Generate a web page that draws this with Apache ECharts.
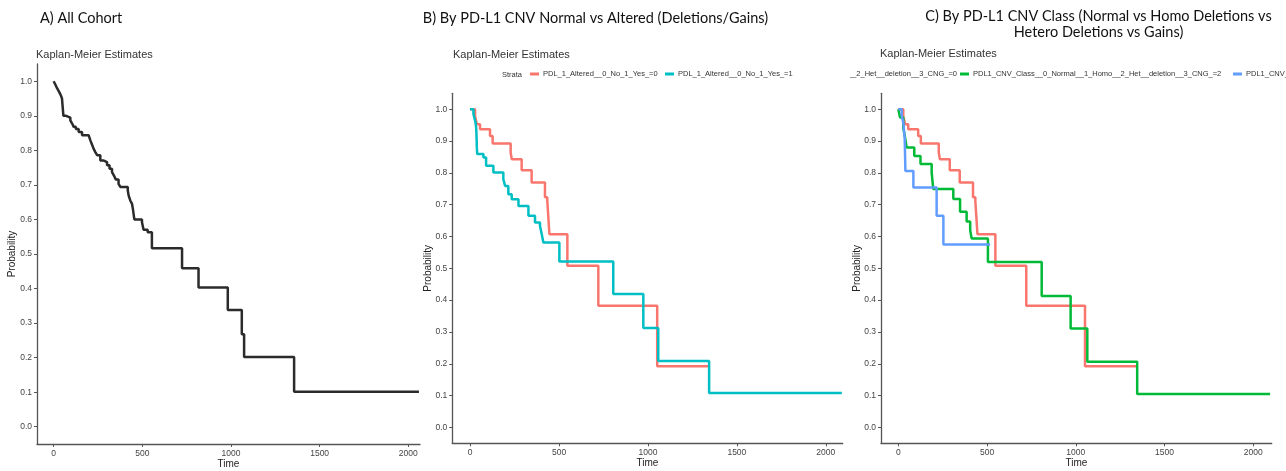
<!DOCTYPE html>
<html><head><meta charset="utf-8">
<script src="https://cdn.jsdelivr.net/npm/echarts@6/dist/echarts.min.js"></script>
<style>
html,body{margin:0;padding:0;background:#fff;width:1286px;height:471px;overflow:hidden;position:relative}
.p{position:absolute;top:0;height:471px}
</style></head><body>
<div id="a" class="p" style="left:0;width:430px"></div>
<div id="b" class="p" style="left:415px;width:435px"></div>
<div id="c" class="p" style="left:850px;width:436px"></div>
<script>
// ---- data ----
const xTicks = [0, 500, 1000, 1500, 2000];
const yTicks = [0, 0.1, 0.2, 0.3, 0.4, 0.5, 0.6, 0.7, 0.8, 0.9, 1.0];

// Panel A: all cohort
const timeAll = [0,10,19,30,40,47,50,55,70,94,105,113,125,141,160,197,207,216,225,235,245,263,280,301,315,329,340,350,366,376,418,423,432,442,447,455,498,507,530,554,724,817,982,1061,1074,1356,2060];
const survAll = [1.0,0.99,0.98,0.97,0.96,0.95,0.93,0.90,0.895,0.887,0.877,0.868,0.862,0.853,0.844,0.839,0.829,0.817,0.805,0.795,0.786,0.771,0.766,0.757,0.747,0.737,0.727,0.716,0.703,0.694,0.684,0.669,0.655,0.645,0.630,0.600,0.592,0.570,0.563,0.517,0.459,0.403,0.338,0.268,0.202,0.101,0.101];

// Panel B / C: Normal (=0)
const timeNormal = [0,28,38,56,112,127,228,234,290,346,421,434,440,446,547,721,1052,1340];
const survNormal = [1.0,0.979,0.953,0.937,0.916,0.892,0.864,0.843,0.808,0.770,0.723,0.712,0.660,0.607,0.508,0.382,0.192,0.192];

// Panel B: Altered (=1)
const timeAltered = [0,19,30,34,36,38,40,75,90,131,187,197,215,234,272,328,365,393,403,412,502,805,974,1058,1344,2090];
const survAltered = [1.0,0.984,0.960,0.943,0.920,0.880,0.859,0.848,0.822,0.801,0.780,0.759,0.733,0.717,0.696,0.665,0.644,0.633,0.607,0.581,0.521,0.419,0.312,0.209,0.108,0.108];

// Panel C: class =2 (green)
const timeClass2 = [0,10,28,38,47,90,125,188,197,310,348,385,405,413,505,808,971,1065,1346,2095];
const survClass2 = [1.0,0.974,0.942,0.911,0.880,0.853,0.828,0.801,0.749,0.718,0.678,0.647,0.620,0.594,0.520,0.413,0.311,0.206,0.105,0.105];

// Panel C: class =3 (blue)
const timeClass3 = [0,19,28,36,40,85,216,254,517];
const survClass3 = [1.0,0.979,0.958,0.910,0.806,0.754,0.665,0.575,0.575];

const nameB0 = 'PDL_1_Altered__0_No_1_Yes_=0';
const nameB1 = 'PDL_1_Altered__0_No_1_Yes_=1';
const nameC0 = 'PDL1_CNV_Class__0_Normal__1_Homo__2_Het__deletion__3_CNG_=0';
const nameC2 = 'PDL1_CNV_Class__0_Normal__1_Homo__2_Het__deletion__3_CNG_=2';
const nameC3 = 'PDL1_CNV_Class__0_Normal__1_Homo__2_Het__deletion__3_CNG_=3';

// ---- helpers ----
const SANS = 'Liberation Sans, Arial, sans-serif';
const TITLEF = 'Lato, "Open Sans", sans-serif';
const zip = (t, s) => t.map((v, i) => [v, s[i]]);

function gridCfg(l, t, w, h) {
  return {left: l, top: t, width: w, height: h, containLabel: false, outerBoundsMode: 'none'};
}
function xAxisCfg(min, max) {
  return {
    type: 'value', min: min, max: max,
    name: 'Time', nameLocation: 'middle', nameGap: 15, nameMoveOverlap: false,
    nameTextStyle: {fontSize: 10, color: '#222', fontFamily: SANS},
    axisLine: {show: true, onZero: false, lineStyle: {color: '#555', width: 1.3}},
    axisTick: {show: true, length: 3, customValues: xTicks, lineStyle: {color: '#555', width: 1}},
    axisLabel: {customValues: xTicks, fontSize: 8.5, color: '#444', margin: 5, fontFamily: SANS,
      formatter: v => String(v)},
    splitLine: {show: false}
  };
}
function yAxisCfg(gap) {
  return {
    type: 'value', min: -0.05, max: 1.05,
    name: 'Probability', nameLocation: 'middle', nameRotate: 90, nameGap: gap, nameMoveOverlap: false,
    nameTextStyle: {fontSize: 10, color: '#222', fontFamily: SANS},
    axisLine: {show: true, onZero: false, lineStyle: {color: '#555', width: 1.3}},
    axisTick: {show: true, length: 3, customValues: yTicks, lineStyle: {color: '#555', width: 1}},
    axisLabel: {customValues: yTicks, fontSize: 8.5, color: '#444', margin: 5, fontFamily: SANS,
      formatter: v => Number(v).toFixed(1)},
    splitLine: {show: false}
  };
}
function kmSeries(name, data, color) {
  return {
    type: 'line', name: name, data: data, step: 'end', color: color,
    showSymbol: false, symbol: 'none', silent: true,
    lineStyle: {color: color, width: 2.5}
  };
}
function legendItem(name, pos) {
  return Object.assign({
    data: [{name: name, icon: 'rect'}], top: 70, padding: 0, itemGap: 0,
    itemWidth: 9, itemHeight: 3, selectedMode: false,
    textStyle: {fontSize: 7.5, color: '#333', fontFamily: SANS, padding: [0, 0, 0, -1]}
  }, pos);
}
function txt(x, y, text, font, align, color) {
  return {type: 'text', x: x, y: y, silent: true,
    style: {text: text, font: font, fill: color || '#111', textAlign: align || 'left', textVerticalAlign: 'middle'}};
}

// ---- Panel A ----
echarts.init(document.getElementById('a')).setOption({
  animation: false,
  grid: gridCfg(37, 64, 383, 380),
  xAxis: xAxisCfg(-94, 2066),
  yAxis: yAxisCfg(20),
  series: [kmSeries('All', zip(timeAll, survAll), '#2b2b2b')],
  graphic: [
    txt(40, 18, 'A) All Cohort', '14.5px ' + TITLEF),
    txt(36, 55, 'Kaplan-Meier Estimates', '11px ' + SANS, 'left', '#333')
  ]
});

// ---- Panel B ----
echarts.init(document.getElementById('b')).setOption({
  animation: false,
  grid: gridCfg(37.3, 93.3, 390.4, 350),
  xAxis: xAxisCfg(-100, 2095),
  yAxis: yAxisCfg(19),
  legend: [legendItem(nameB0, {left: 115}), legendItem(nameB1, {left: 250})],
  series: [
    kmSeries(nameB0, zip(timeNormal, survNormal), '#F8766D'),
    kmSeries(nameB1, zip(timeAltered, survAltered), '#00BFC4')
  ],
  graphic: [
    txt(180.5, 18, 'B) By PD-L1 CNV Normal vs Altered (Deletions/Gains)', '14.5px ' + TITLEF, 'center'),
    txt(38, 55, 'Kaplan-Meier Estimates', '11px ' + SANS, 'left', '#333'),
    txt(87, 75, 'Strata', '7.5px ' + SANS, 'left', '#333')
  ]
});

// ---- Panel C ----
echarts.init(document.getElementById('c')).setOption({
  animation: false,
  grid: gridCfg(31, 93.3, 390.7, 350),
  xAxis: xAxisCfg(-97.5, 2104),
  yAxis: yAxisCfg(19),
  legend: [legendItem(nameC0, {right: 329}), legendItem(nameC2, {left: 110}), legendItem(nameC3, {left: 383})],
  series: [
    kmSeries(nameC0, zip(timeNormal, survNormal), '#F8766D'),
    kmSeries(nameC2, zip(timeClass2, survClass2), '#00BA38'),
    kmSeries(nameC3, zip(timeClass3, survClass3), '#619CFF')
  ],
  graphic: [
    txt(248.5, 16, 'C) By PD-L1 CNV Class (Normal vs Homo Deletions vs', '14.5px ' + TITLEF, 'center'),
    txt(248.5, 32, 'Hetero Deletions vs Gains)', '14.5px ' + TITLEF, 'center'),
    txt(30, 54, 'Kaplan-Meier Estimates', '11px ' + SANS, 'left', '#333')
  ]
});
</script>
</body></html>
